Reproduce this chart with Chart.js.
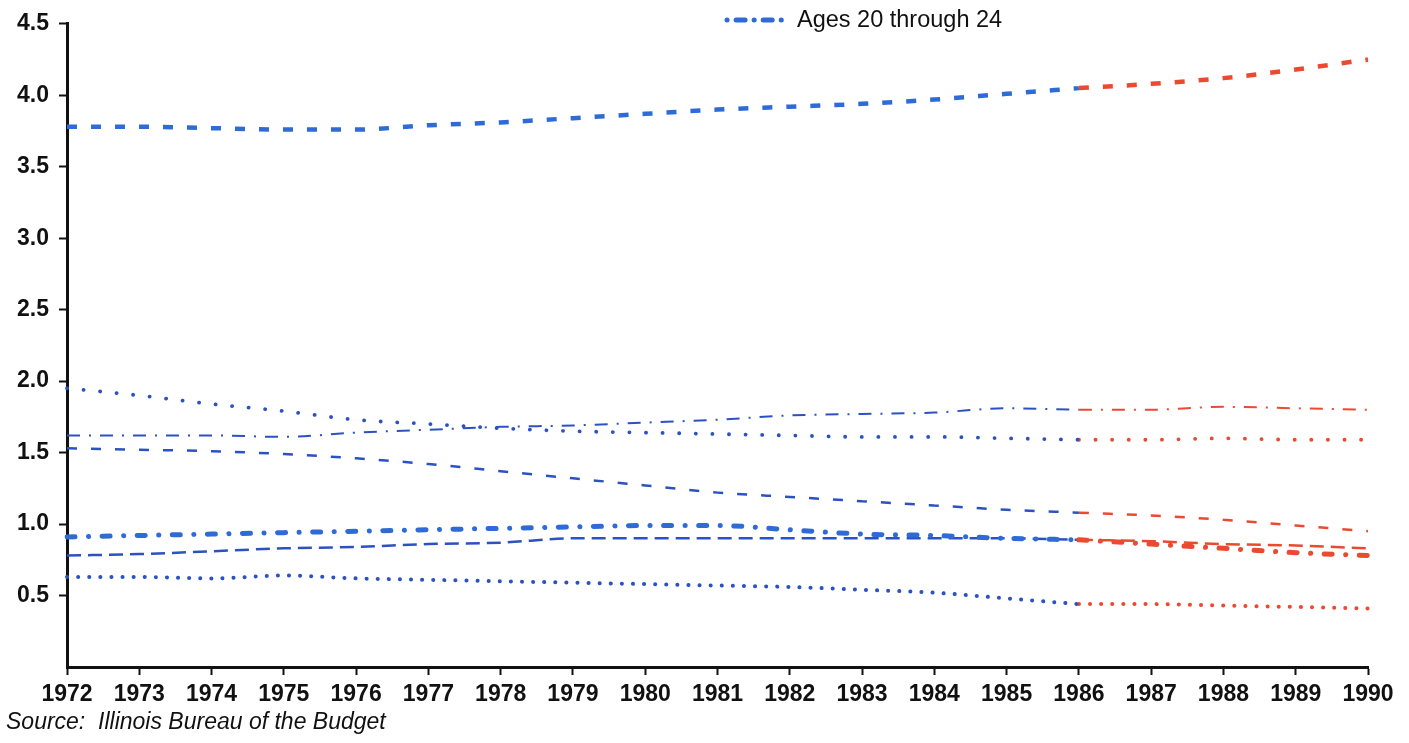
<!DOCTYPE html>
<html>
<head>
<meta charset="utf-8">
<script src="https://cdn.jsdelivr.net/npm/chart.js@4/dist/chart.umd.min.js"></script>
<style>
    html, body { margin: 0; padding: 0; background: #fff; }
    #wrap { position: relative; width: 1409px; height: 743px; overflow: hidden; }
    #legend { position: absolute; left: 723px; top: 6px; font: 23.5px "Liberation Sans", Arial, sans-serif; color: #111; display: flex; align-items: center; }
    #legend svg { margin-right: 6px; }
    #source { position: absolute; left: 6px; top: 708px; font: italic 23px "Liberation Sans", Arial, sans-serif; color: #111; }
</style>
</head>
<body>
<div id="wrap">
    <canvas id="chart" width="1409" height="743"></canvas>
    <div id="legend">
        <svg width="68" height="12"><line x1="4" y1="6" x2="64" y2="6" stroke="#2e6bd6" stroke-width="5" stroke-linecap="round" stroke-dasharray="0.1 9 9 9"/></svg>
        <span>Ages 20 through 24</span>
    </div>
    <div id="source">Source:&nbsp; Illinois Bureau of the Budget</div>
</div>
<script>
// years on the x axis
const years = ['1972', '1973', '1974', '1975', '1976', '1977', '1978', '1979', '1980', '1981',
    '1982', '1983', '1984', '1985', '1986', '1987', '1988', '1989', '1990'];
const yTicks = [0.5, 1.0, 1.5, 2.0, 2.5, 3.0, 3.5, 4.0, 4.5];

// actual values 1972-1986 (blue) and projections 1986-1990 (red)
const s1Actual = [3.78, 3.78, 3.77, 3.76, 3.76, 3.79, 3.81, 3.84, 3.87, 3.90, 3.92, 3.94, 3.97, 4.01, 4.05];
const s1Proj = [4.05, 4.08, 4.12, 4.18, 4.25];
const s2Actual = [1.95, 1.90, 1.84, 1.79, 1.73, 1.70, 1.67, 1.65, 1.64, 1.63, 1.62, 1.61, 1.61, 1.60, 1.59];
const s2Proj = [1.59, 1.59, 1.60, 1.59, 1.59];
const s3Actual = [1.62, 1.62, 1.62, 1.61, 1.64, 1.66, 1.68, 1.69, 1.71, 1.73, 1.76, 1.77, 1.78, 1.81, 1.80];
const s3Proj = [1.80, 1.80, 1.82, 1.81, 1.80];
const s4Actual = [1.53, 1.52, 1.51, 1.49, 1.46, 1.42, 1.37, 1.32, 1.27, 1.22, 1.19, 1.16, 1.13, 1.10, 1.08];
const s4Proj = [1.08, 1.06, 1.03, 0.99, 0.95];
const s5Actual = [0.91, 0.92, 0.93, 0.94, 0.95, 0.96, 0.97, 0.98, 0.99, 0.99, 0.96, 0.93, 0.92, 0.90, 0.89];
const s5Proj = [0.89, 0.86, 0.83, 0.80, 0.78];
const s6Actual = [0.78, 0.79, 0.81, 0.83, 0.84, 0.86, 0.87, 0.90, 0.90, 0.90, 0.90, 0.90, 0.90, 0.90, 0.89];
const s6Proj = [0.89, 0.88, 0.86, 0.85, 0.83];
const s7Actual = [0.63, 0.63, 0.62, 0.64, 0.62, 0.61, 0.60, 0.59, 0.58, 0.57, 0.56, 0.54, 0.52, 0.48, 0.44];
const s7Proj = [0.44, 0.44, 0.43, 0.42, 0.41];

const blue = '#2e6bd6';
const darkBlue = '#2c52c2';
const red = '#ea4a2f';

// one blue + one red dataset for each line
function pair(label, actual, proj, width, dash, cap, blueColor) {
    const pad = years.length - actual.length;
    const common = {
        borderWidth: width,
        borderDash: dash,
        borderCapStyle: cap,
        pointRadius: 0,
        fill: false,
        cubicInterpolationMode: 'monotone',
        spanGaps: false
    };
    return [
        Object.assign({ label: label, data: actual.concat(new Array(pad).fill(null)), borderColor: blueColor }, common),
        Object.assign({ label: label + ' (projected)', data: new Array(years.length - proj.length).fill(null).concat(proj), borderColor: red }, common)
    ];
}

const datasets = [].concat(
    pair('Series 1', s1Actual, s1Proj, 4.5, [10, 14], 'butt', blue),
    pair('Series 2', s2Actual, s2Proj, 3.8, [0.1, 16.5], 'round', darkBlue),
    pair('Series 3', s3Actual, s3Proj, 2, [13, 9, 2, 9], 'butt', darkBlue),
    pair('Series 4', s4Actual, s4Proj, 2.5, [10, 14], 'butt', darkBlue),
    pair('Ages 20 through 24', s5Actual, s5Proj, 5, [8, 13.5, 0.1, 13.5], 'round', blue),
    pair('Series 6', s6Actual, s6Proj, 2.5, [14, 7], 'butt', darkBlue),
    pair('Series 7', s7Actual, s7Proj, 4, [0.1, 11], 'round', darkBlue)
);

const tickFont = { family: '"Liberation Sans", Arial, sans-serif', size: 23, weight: 'bold' };

new Chart(document.getElementById('chart'), {
    type: 'line',
    data: { labels: years, datasets: datasets },
    options: {
        responsive: false,
        animation: false,
        layout: { padding: { top: 18, right: 41, bottom: 0, left: 0 } },
        plugins: {
            legend: { display: false },
            tooltip: { enabled: false }
        },
        scales: {
            x: {
                offset: false,
                grid: { drawOnChartArea: false, drawTicks: true, tickLength: 8, tickWidth: 2, tickColor: '#111' },
                border: { display: true, color: '#111', width: 3 },
                ticks: { color: '#111', font: tickFont, padding: 6, maxRotation: 0, autoSkip: false },
                afterFit: function(scale) { scale.height = 76; }
            },
            y: {
                min: 0,
                max: 4.5,
                afterBuildTicks: function(scale) {
                    scale.ticks = yTicks.map(v => ({ value: v }));
                },
                grid: { drawOnChartArea: false, drawTicks: true, tickLength: 8, tickWidth: 2, tickColor: '#111' },
                border: { display: true, color: '#111', width: 3 },
                ticks: {
                    color: '#111',
                    font: tickFont,
                    padding: 10,
                    callback: function(v) { return Number(v).toFixed(1); }
                },
                afterFit: function(scale) { scale.width = 67; }
            }
        }
    }
});
</script>
</body>
</html>
